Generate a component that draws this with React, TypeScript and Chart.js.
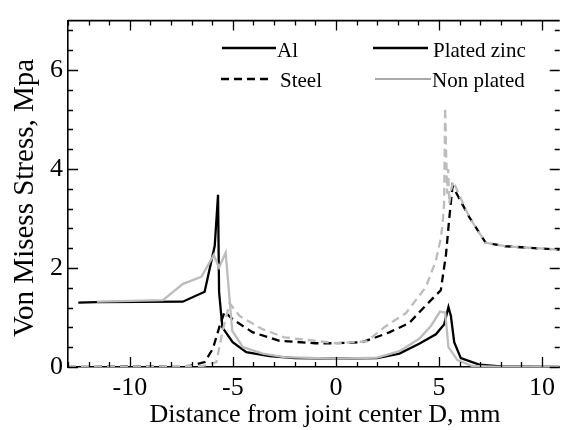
import React, { useEffect, useRef } from 'react';
import { Chart, registerables } from 'chart.js';

Chart.register(...registerables);

// ---- data ----
const alPlatedX = [-12.5, -11.6, -7.43, -6.37, -5.88, -5.72, -5.67, -5.51, -5.01, -4.35, -3.22, -2, 0, 2, 3.08, 4.04, 4.85, 5.25, 5.46, 5.58, 5.74, 6.06, 6.95, 8, 10.86];
const alPlatedY = [1.30, 1.31, 1.32, 1.52, 2.45, 3.48, 1.52, 0.80, 0.50, 0.30, 0.22, 0.18, 0.17, 0.18, 0.27, 0.47, 0.66, 0.86, 1.21, 1.03, 0.50, 0.18, 0.05, 0.01, 0];

const alNonPlatedX = [-11.6, -8.39, -7.42, -6.53, -5.93, -5.67, -5.35, -5.03, -4.51, -3.54, -2.5, 0, 2, 3.08, 4.04, 4.61, 5.05, 5.3, 5.46, 5.9, 6.62, 8, 10.86];
const alNonPlatedY = [1.32, 1.35, 1.68, 1.82, 2.26, 2.01, 2.31, 0.73, 0.40, 0.27, 0.20, 0.17, 0.19, 0.32, 0.57, 0.83, 1.12, 1.10, 0.40, 0.14, 0.02, 0, 0];

const steelPlatedX = [-13, -7.1, -6.37, -5.97, -5.64, -5.4, -5.0, -4.03, -2.74, -1, 0, 1.28, 2.59, 3.56, 4.37, 5.09, 5.34, 5.5, 5.66, 6.47, 7.27, 8.24, 9.37, 10.5, 10.86];
const steelPlatedY = [0, 0.02, 0.1, 0.37, 0.83, 1.12, 0.96, 0.70, 0.53, 0.48, 0.48, 0.50, 0.70, 0.89, 1.25, 1.55, 2.27, 3.0, 3.66, 3.03, 2.51, 2.44, 2.41, 2.38, 2.37];

const steelNonPlatedX = [-13, -6.46, -5.8, -5.48, -5.16, -4.67, -3.54, -2.5, 0, 1.5, 2.43, 3.4, 4.37, 4.85, 5.09, 5.17, 5.25, 5.3, 5.35, 5.4, 5.45, 5.5, 5.6, 5.7, 5.8, 6.47, 7.27, 8.24, 9.37, 10.5, 10.86];
const steelNonPlatedY = [0, 0.02, 0.1, 0.76, 1.29, 1.03, 0.76, 0.60, 0.48, 0.52, 0.83, 1.09, 1.62, 2.15, 2.6, 2.87, 3.3, 5.24, 4.3, 3.5, 4.0, 3.3, 3.6, 3.75, 3.65, 3.03, 2.51, 2.44, 2.41, 2.38, 2.37];

const xTickValues = [-10, -5, 0, 5, 10];
const yTickValues = [0, 2, 4, 6];
const legendLabels = ['Al', 'Steel', 'Plated zinc', 'Non plated'];
const xTitle = 'Distance from joint center D, mm';
const yTitle = 'Von Misess Stress, Mpa';

const FONT = '"Liberation Serif", "Times New Roman", serif';
const GRAY = 'rgb(188,188,188)';

const toPoints = (xs: number[], ys: number[]) => xs.map((x, i) => ({ x, y: ys[i] }));

const framePlugin = {
  id: 'frame',
  afterDatasetsDraw(chart: any) {
    const { ctx, chartArea: a, scales } = chart;
    const x = scales.x;
    const y = scales.y;
    ctx.save();
    ctx.strokeStyle = '#000';
    ctx.lineWidth = 1.6;
    ctx.beginPath();
    ctx.moveTo(a.left, a.top);
    ctx.lineTo(a.right, a.top);
    ctx.stroke();
    ctx.lineWidth = 1.3;
    for (let v = Math.ceil(x.min); v <= x.max + 1e-9; v++) {
      const px = Math.round(x.getPixelForValue(v)) + 0.5;
      const len = v % 5 === 0 ? 10 : 5;
      ctx.beginPath();
      ctx.moveTo(px, a.bottom);
      ctx.lineTo(px, a.bottom - len);
      ctx.moveTo(px, a.top);
      ctx.lineTo(px, a.top + len);
      ctx.stroke();
    }
    for (let i = 0; i * 0.4 <= y.max + 1e-9; i++) {
      const v = i * 0.4;
      const py = Math.round(y.getPixelForValue(v)) + 0.5;
      const len = i % 5 === 0 ? 10 : 5;
      ctx.beginPath();
      ctx.moveTo(a.left, py);
      ctx.lineTo(a.left + len, py);
      ctx.moveTo(a.right, py);
      ctx.lineTo(a.right - len, py);
      ctx.stroke();
    }

    // legend
    ctx.font = `21px ${FONT}`;
    ctx.fillStyle = '#000';
    ctx.textBaseline = 'alphabetic';
    ctx.textAlign = 'left';
    const row1 = 48;
    const row2 = 79;
    ctx.lineWidth = 2.5;
    ctx.strokeStyle = '#000';
    ctx.setLineDash([]);
    ctx.beginPath(); ctx.moveTo(222, row1); ctx.lineTo(276, row1); ctx.stroke();
    ctx.fillText(legendLabels[0], 277, row1 + 9);
    ctx.setLineDash([8, 5]);
    ctx.beginPath(); ctx.moveTo(221, row2); ctx.lineTo(271, row2); ctx.stroke();
    ctx.setLineDash([]);
    ctx.fillText(legendLabels[1], 280, row2 + 8);
    ctx.beginPath(); ctx.moveTo(373, row1); ctx.lineTo(428, row1); ctx.stroke();
    ctx.fillText(legendLabels[2], 433, row1 + 9);
    ctx.lineWidth = 1.5;
    ctx.strokeStyle = 'rgb(140,140,140)';
    ctx.beginPath(); ctx.moveTo(375, row2); ctx.lineTo(431, row2); ctx.stroke();
    ctx.fillText(legendLabels[3], 432, row2 + 8);

    // axis titles
    ctx.font = `26px ${FONT}`;
    ctx.textAlign = 'center';
    ctx.fillText(xTitle, 325, 422);
    ctx.font = `29px ${FONT}`;
    ctx.translate(33, 198);
    ctx.rotate(-Math.PI / 2);
    ctx.fillText(yTitle, 0, 0);
    ctx.restore();
  },
};

export default function App() {
  const ref = useRef<HTMLCanvasElement | null>(null);
  useEffect(() => {
    document.body.style.margin = '0';
    const canvas = ref.current;
    if (!canvas) return;
    const chart = new Chart(canvas, {
      type: 'line',
      data: {
        datasets: [
          { label: 'Al non plated', data: toPoints(alNonPlatedX, alNonPlatedY), borderColor: GRAY, borderWidth: 2.3, order: 0 },
          { label: 'Steel non plated', data: toPoints(steelNonPlatedX, steelNonPlatedY), borderColor: GRAY, borderWidth: 2.3, borderDash: [8, 5], order: 1 },
          { label: 'Al plated zinc', data: toPoints(alPlatedX, alPlatedY), borderColor: '#000', borderWidth: 2.3, order: 2 },
          { label: 'Steel plated zinc', data: toPoints(steelPlatedX, steelPlatedY), borderColor: '#000', borderWidth: 2.3, borderDash: [8, 5], order: 3 },
        ],
      },
      options: {
        animation: false,
        responsive: false,
        devicePixelRatio: 1,
        layout: { padding: { top: 13, right: 0, left: 0, bottom: 0 } },
        elements: { point: { radius: 0 }, line: { tension: 0 } },
        plugins: { legend: { display: false }, tooltip: { enabled: false } },
        scales: {
          x: {
            type: 'linear',
            min: -13,
            max: 10.86,
            grid: { display: false, drawTicks: false },
            border: { display: true, color: '#000', width: 1.6 },
            afterBuildTicks: (s: any) => { s.ticks = xTickValues.map((v) => ({ value: v })); },
            afterFit: (s: any) => { s.height = 63; },
            ticks: {
              color: '#000',
              font: { family: FONT, size: 26 },
              padding: 6,
              maxRotation: 0,
              autoSkip: false,
              callback: (v: any) => String(v),
            },
          },
          y: {
            type: 'linear',
            min: 0,
            max: 7,
            grid: { display: false, drawTicks: false },
            border: { display: true, color: '#000', width: 1.6 },
            afterBuildTicks: (s: any) => { s.ticks = yTickValues.map((v) => ({ value: v })); },
            afterFit: (s: any) => { s.width = 68; },
            ticks: {
              color: '#000',
              font: { family: FONT, size: 26 },
              padding: 5,
              autoSkip: false,
              callback: (v: any) => String(v),
            },
          },
        },
      },
      plugins: [framePlugin],
    } as any);
    return () => chart.destroy();
  }, []);
  return <canvas ref={ref} width={561} height={430} style={{ display: 'block' }} />;
}
